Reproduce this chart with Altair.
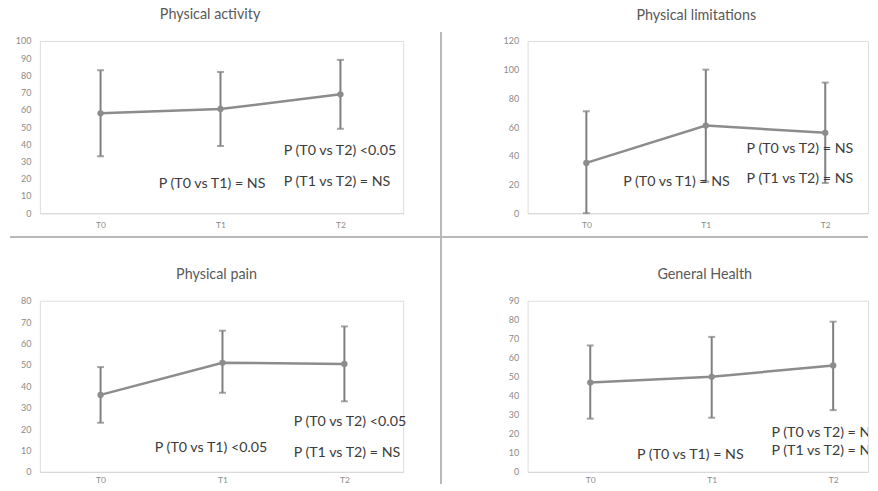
import altair as alt
import pandas as pd

times = ["T0", "T1", "T2"]

# Physical activity
activity_mean = [58, 60.5, 69]
activity_lo = [33, 39, 49]
activity_hi = [83, 82, 89]
# Physical limitations
limit_mean = [35, 61, 56]
limit_lo = [0, 22, 21]
limit_hi = [71, 100, 91]
# Physical pain
pain_mean = [36, 51, 50.5]
pain_lo = [23, 37, 33]
pain_hi = [49, 66, 68]
# General Health
health_mean = [47, 50, 56]
health_lo = [28, 28.5, 32.5]
health_hi = [66.5, 71, 79]

titles = ["Physical activity", "Physical limitations", "Physical pain", "General Health"]

activity_notes = ["P (T0 vs T1) = NS", "P (T0 vs T2) <0.05", "P (T1 vs T2) = NS"]
limit_notes = ["P (T0 vs T1) = NS", "P (T0 vs T2) = NS", "P (T1 vs T2) = NS"]
pain_notes = ["P (T0 vs T1) <0.05", "P (T0 vs T2) <0.05", "P (T1 vs T2) = NS"]
health_notes = ["P (T0 vs T1) = NS", "P (T0 vs T2) = NS", "P (T1 vs T2) = NS"]

FONT = "Lato"
LINE = "#8c8c8c"
BAR = "#7f7f7f"
LABEL_EXPR = "[" + ",".join("'%s'" % t for t in times) + "][datum.value]"


def panel(title, mean, lo, hi, ymax, ystep, w, h, xdomain, title_dx, title_offset,
          notes, note_pos, dividers=False, clip=False, xpad=7):
    idx = list(range(len(times)))
    df = pd.DataFrame({"i": idx, "mean": mean, "lo": lo, "hi": hi})
    base = alt.Chart(df)
    x = alt.X("i:Q", scale=alt.Scale(domain=xdomain, nice=False, zero=False),
              axis=alt.Axis(title=None, values=idx, labelExpr=LABEL_EXPR, labelAngle=0,
                            ticks=False, grid=False, domainColor="#d9d9d9",
                            domainWidth=1.2, labelPadding=xpad, labelFontSize=8.5,
                            labelColor="#8a8a8a", labelFont=FONT))
    yscale = alt.Scale(domain=[0, ymax], nice=False, zero=True)
    yaxis = alt.Axis(title=None, values=list(range(0, ymax + 1, ystep)), grid=False,
                     domain=False, ticks=False, labelPadding=9, labelFontSize=9,
                     labelOverlap=False, labelColor="#8a8a8a", labelFont=FONT)

    def Y(field):
        return alt.Y(field, scale=yscale, axis=yaxis)

    rule = base.mark_rule(color=BAR, strokeWidth=2).encode(x=x, y=Y("lo:Q"), y2="hi:Q")
    tick_lo = base.mark_tick(color=BAR, thickness=2, size=7, orient="horizontal").encode(
        x=x, y=Y("lo:Q"))
    tick_hi = base.mark_tick(color=BAR, thickness=2, size=7, orient="horizontal").encode(
        x=x, y=Y("hi:Q"))
    line = base.mark_line(color=LINE, strokeWidth=2.5).encode(x=x, y=Y("mean:Q"))
    pts = base.mark_point(color=LINE, filled=True, opacity=1, size=40).encode(x=x, y=Y("mean:Q"))
    layers = [rule, tick_lo, tick_hi, line, pts]
    for text, (anchor, val, dx) in zip(notes, note_pos):
        ndf = pd.DataFrame({"i": [times.index(anchor)], "v": [val], "label": [text]})
        layers.append(
            alt.Chart(ndf).mark_text(align="left", baseline="middle", dx=dx, font=FONT,
                                     fontSize=14.3, color="#3c3c3c", clip=clip).encode(
                x=x, y=Y("v:Q"), text="label:N"))
    if dividers:
        layers.append(alt.Chart(df).mark_rule(color="#b8b8b8", strokeWidth=1.5).encode(
            x=alt.value(403), y=alt.value(-9), y2=alt.value(445)))
        layers.append(alt.Chart(df).mark_rule(color="#b8b8b8", strokeWidth=1.5).encode(
            y=alt.value(197), x=alt.value(-30), x2=alt.value(832)))
    return alt.layer(*layers).properties(
        width=w, height=h,
        title=alt.TitleParams(title, font=FONT, fontSize=14.4, fontWeight="normal",
                              color="#595959", anchor="middle", frame="group", dx=title_dx,
                              offset=title_offset, baseline="alphabetic"))


W1, W2 = 365, 342

p1 = panel(titles[0], activity_mean, activity_lo, activity_hi, 100, 10, W1, 173,
           [-0.506, 2.523], -11.5, -2, activity_notes,
           [("T1", 17, -62), ("T2", 36, -57), ("T2", 18, -57)], dividers=True)
p2 = panel(titles[1], limit_mean, limit_lo, limit_hi, 120, 20, W2, 173,
           [-0.492, 2.358], -1.5, 3, limit_notes,
           [("T1", 21.5, -83), ("T2", 45, -79), ("T2", 24, -79)], clip=True)
p3 = panel(titles[2], pain_mean, pain_lo, pain_hi, 80, 10, W1, 172,
           [-0.498, 2.482], -5, 3, pain_notes,
           [("T1", 11.3, -68), ("T2", 23.4, -51), ("T2", 9, -51)], xpad=4)
p4 = panel(titles[3], health_mean, health_lo, health_hi, 90, 10, W2, 172,
           [-0.516, 2.287], 7, 3, health_notes,
           [("T1", 9, -75), ("T2", 20.6, -62), ("T2", 11, -62)], clip=True, xpad=4)

chart = alt.concat(p1, p2, p3, p4, columns=2, bounds="flush", align="each",
                   spacing={"row": 88, "column": 125}).properties(
    padding={"left": 0, "top": -3, "right": 0, "bottom": 0}
).configure_view(stroke="transparent").configure(background="white")

chart.save("out.html", embed_options={"renderer": "svg", "actions": False})
